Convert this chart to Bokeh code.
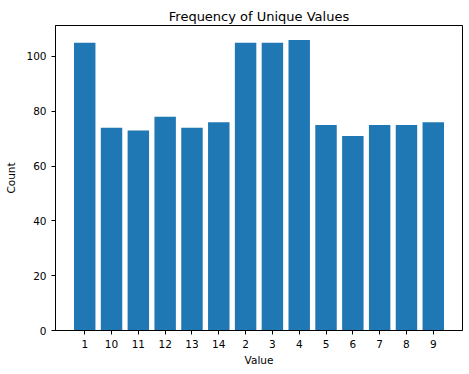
from bokeh.plotting import figure
from bokeh.models import FactorRange, FixedTicker, Range1d
from bokeh.embed import file_html
from bokeh.resources import INLINE

categories = ["1", "10", "11", "12", "13", "14", "2", "3", "4", "5", "6", "7", "8", "9"]
counts = [105, 74, 73, 78, 74, 76, 105, 105, 106, 75, 71, 75, 75, 76]
y_ticks = [0, 20, 40, 60, 80, 100]

FONT = "DejaVu Sans"

p = figure(frame_width=407, frame_height=305, output_backend="svg", toolbar_location=None,
           x_range=FactorRange(factors=categories, range_padding=0.59, range_padding_units="absolute"),
           y_range=Range1d(0, 111.3),
           min_border_left=55, min_border_right=7, min_border_top=25, min_border_bottom=44)

p.vbar(x=categories, top=counts, width=0.8, color="#1f77b4", line_color=None)

p.title.text = "Frequency of Unique Values"
p.title.align = "center"
p.title.text_font = FONT
p.title.text_font_size = "13px"
p.title.text_font_style = "normal"
p.title.text_color = "black"
p.title.standoff = 4

p.xgrid.visible = False
p.ygrid.visible = False
p.outline_line_color = "black"
p.outline_line_width = 1
p.background_fill_color = "white"
p.border_fill_color = "white"

for ax in (p.xaxis[0], p.yaxis[0]):
    ax.major_label_text_font = FONT
    ax.major_label_text_font_size = "10.5px"
    ax.major_label_text_color = "black"
    ax.axis_label_text_font = FONT
    ax.axis_label_text_font_size = "10.5px"
    ax.axis_label_text_font_style = "normal"
    ax.axis_label_text_color = "black"
    ax.major_tick_out = 4
    ax.major_tick_in = 0
    ax.minor_tick_out = 0
    ax.minor_tick_in = 0
    ax.axis_line_color = "black"
    ax.major_tick_line_color = "black"

p.xaxis.axis_label = "Value"
p.yaxis.axis_label = "Count"
p.yaxis.ticker = FixedTicker(ticks=y_ticks)
p.xaxis.major_label_standoff = 5
p.yaxis.major_label_standoff = 5
p.xaxis.axis_label_standoff = 3
p.yaxis.axis_label_standoff = 6

open("out.html", "w").write(file_html(p, INLINE))
